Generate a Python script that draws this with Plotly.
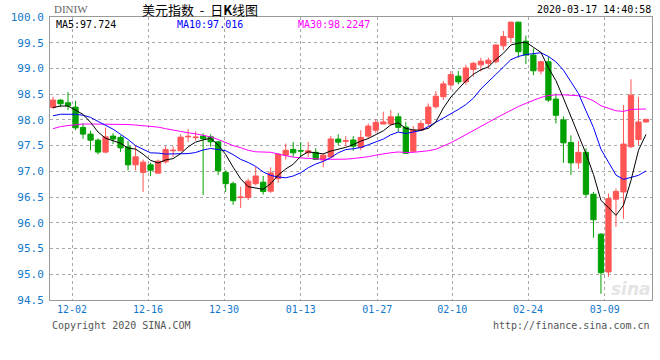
import plotly.graph_objects as go
import datetime as dt

# ---------------- data ----------------
start = dt.date(2019, 11, 27)
dates = []
d = start
while len(dates) < 80:
    if d.weekday() < 5:
        dates.append(d.strftime("%m-%d"))
    d += dt.timedelta(days=1)

opens = [98.243, 98.385, 98.333, 98.249, 97.854, 97.724, 97.607, 97.374, 97.685, 97.66,
         97.477, 97.127, 96.98, 97.127, 96.965, 97.185, 97.40, 97.40, 97.67, 97.655,
         97.685, 97.671, 97.574, 96.98, 96.76, 96.49, 96.49, 96.76, 96.79, 96.615,
         96.86, 97.315, 97.426, 97.405, 97.36, 97.37, 97.22, 97.28, 97.627, 97.585,
         97.61, 97.465, 97.685, 97.80, 97.92, 97.92, 98.06, 97.86, 97.39, 97.80,
         97.93, 98.255, 98.45, 98.68, 98.85, 98.74, 98.98, 99.07, 99.10, 99.13,
         99.44, 99.60, 99.90, 99.53, 99.26, 98.95, 99.13, 98.405, 98.00, 97.56,
         97.165, 97.37, 96.555, 95.78, 95.045, 96.46, 96.60, 97.48, 97.62, 97.96]
highs = [98.45, 98.40, 98.54, 98.37, 97.93, 97.79, 97.64, 97.85, 97.74, 97.70,
         97.59, 97.50, 97.23, 97.17, 97.23, 97.49, 97.49, 97.72, 97.82, 97.78,
         97.74, 97.72, 97.59, 97.02, 96.80, 96.70, 96.86, 97.09, 96.91, 97.08,
         97.35, 97.54, 97.57, 97.57, 97.57, 97.45, 97.35, 97.685, 97.72, 97.685,
         97.685, 97.80, 97.93, 98.01, 98.16, 98.19, 98.13, 97.96, 97.88, 97.99,
         98.32, 98.56, 98.755, 98.95, 98.95, 99.07, 99.13, 99.21, 99.21, 99.47,
         99.73, 99.91, 99.91, 99.64, 99.39, 99.15, 99.23, 98.515, 98.07, 97.70,
         97.59, 97.45, 96.60, 95.80, 96.57, 96.67, 98.29, 98.79, 98.45, 98.02]
lows = [98.21, 98.25, 98.19, 97.80, 97.63, 97.41, 97.33, 97.35, 97.53, 97.38,
        97.02, 97.02, 96.60, 96.91, 96.96, 97.15, 97.28, 97.40, 97.57, 97.60,
        96.54, 97.48, 96.93, 96.60, 96.35, 96.29, 96.44, 96.73, 96.55, 96.58,
        96.78, 97.23, 97.28, 97.28, 97.28, 97.22, 97.08, 97.26, 97.51, 97.49,
        97.40, 97.41, 97.64, 97.75, 97.92, 97.89, 97.77, 97.35, 97.38, 97.80,
        97.87, 98.22, 98.385, 98.59, 98.69, 98.68, 98.84, 98.94, 99.00, 99.10,
        99.36, 99.49, 99.21, 99.085, 98.87, 98.885, 98.35, 97.93, 97.165, 96.93,
        97.05, 96.50, 95.71, 94.62, 94.95, 95.92, 96.08, 97.45, 97.51, 97.95]
closes = [98.385, 98.313, 98.274, 97.846, 97.724, 97.607, 97.374, 97.671, 97.627, 97.457,
          97.127, 97.282, 97.179, 97.023, 97.198, 97.426, 97.41, 97.665, 97.68, 97.665,
          97.633, 97.574, 97.010, 96.76, 96.43, 96.50, 96.81, 96.91, 96.61, 96.97,
          97.335, 97.41, 97.36, 97.395, 97.40, 97.23, 97.315, 97.63, 97.568, 97.595,
          97.49, 97.66, 97.88, 97.95, 97.96, 98.06, 97.855, 97.35, 97.80, 97.93,
          98.25, 98.46, 98.70, 98.88, 98.74, 99.01, 99.10, 99.14, 99.16, 99.455,
          99.62, 99.90, 99.325, 99.26, 98.955, 99.13, 98.385, 98.09, 97.555, 97.165,
          97.37, 96.555, 96.06, 95.03, 96.47, 96.61, 97.53, 98.48, 97.96, 98.01]

ma5 = [98.24, 98.27, 98.27, 98.19,
       98.108, 97.953, 97.765, 97.644, 97.601, 97.547, 97.451, 97.433, 97.334, 97.214,
       97.162, 97.222, 97.247, 97.344, 97.476, 97.569, 97.611, 97.643, 97.512, 97.328,
       97.081, 96.855, 96.702, 96.682, 96.652, 96.76, 96.927, 97.047, 97.137, 97.294,
       97.38, 97.359, 97.34, 97.394, 97.429, 97.467, 97.519, 97.588, 97.638, 97.714,
       97.788, 97.902, 97.941, 97.835, 97.805, 97.799, 97.837, 97.958, 98.228, 98.444,
       98.606, 98.758, 98.886, 98.974, 99.03, 99.173, 99.295, 99.455, 99.492, 99.512,
       99.412, 99.314, 99.011, 98.764, 98.423, 98.065, 97.713, 97.347, 96.941, 96.436,
       96.297, 96.145, 96.34, 96.824, 97.41, 97.718]
ma10 = [98.08, 98.11, 98.11, 98.11, 98.09, 98.05, 97.97, 97.89, 97.82, 97.72,
        97.62, 97.50, 97.43, 97.36, 97.355, 97.336, 97.34, 97.339, 97.345, 97.366,
        97.416, 97.445, 97.428, 97.402, 97.325, 97.233, 97.173, 97.097, 96.990, 96.921,
        96.891, 96.875, 96.910, 96.973, 97.07, 97.143, 97.194, 97.266, 97.361, 97.423,
        97.439, 97.464, 97.516, 97.571, 97.627, 97.710, 97.764, 97.736, 97.760, 97.794,
        97.870, 97.950, 98.032, 98.125, 98.203, 98.298, 98.422, 98.601, 98.737, 98.890,
        99.027, 99.171, 99.233, 99.271, 99.293, 99.305, 99.233, 99.128, 98.968, 98.739,
        98.514, 98.179, 97.853, 97.430, 97.181, 96.929, 96.844, 96.883, 96.923, 97.008]
ma30 = [97.83, 97.87, 97.89, 97.91, 97.92, 97.92, 97.92, 97.92, 97.92, 97.92,
        97.91, 97.90, 97.89, 97.88, 97.86, 97.83, 97.80, 97.77, 97.75, 97.73,
        97.70, 97.67, 97.62, 97.56, 97.50, 97.46, 97.41, 97.38, 97.37, 97.371,
        97.336, 97.306, 97.276, 97.261, 97.250, 97.237, 97.235, 97.234, 97.232, 97.237,
        97.249, 97.261, 97.285, 97.315, 97.341, 97.362, 97.377, 97.366, 97.370, 97.379,
        97.400, 97.429, 97.486, 97.556, 97.633, 97.717, 97.793, 97.868, 97.953, 98.035,
        98.112, 98.195, 98.260, 98.322, 98.374, 98.437, 98.473, 98.488, 98.488, 98.474,
        98.470, 98.433, 98.372, 98.275, 98.225, 98.177, 98.166, 98.204, 98.209, 98.212]

tick_labels = ["12-02", "12-16", "12-30", "01-13", "01-27", "02-10", "02-24", "03-09"]
y_ticks = [94.5, 95.0, 95.5, 96.0, 96.5, 97.0, 97.5, 98.0, 98.5, 99.0, 99.5, 100.0]
legend_texts = ["MA5:97.724", "MA10:97.016", "MA30:98.2247"]

# ---------------- layout geometry ----------------
W, H = 660, 360
L, R, T, B = 50, 8, 17, 60
PW, PH = W - L - R, H - T - B
X0, X1 = -0.4, 79.8
grid_px = [72, 148, 224, 300.7, 377.3, 452.3, 528, 604.7]


def px_to_x(px):
    return X0 + (px - L) / PW * (X1 - X0)


def fx(px):
    return (px - L) / PW


def fy(py):
    return (H - B - py) / PH


idx = list(range(len(dates)))
RED, GREEN = "#FF5555", "#00A000"
BLUE_TXT = "#1177CC"
MONO = "DejaVu Sans Mono"
NB = "\u00a0"

fig = go.Figure()
fig.add_trace(go.Candlestick(
    x=idx, open=opens, high=highs, low=lows, close=closes,
    increasing=dict(line=dict(color=RED, width=1), fillcolor=RED),
    decreasing=dict(line=dict(color=GREEN, width=1), fillcolor=GREEN),
    whiskerwidth=0, hoverinfo="skip", text=dates,
))
for vals, col in [(ma30, "#FF00FF"), (ma10, "#0000FF"), (ma5, "#000000")]:
    fig.add_trace(go.Scatter(x=idx, y=vals, mode="lines",
                             line=dict(color=col, width=1), hoverinfo="skip"))

fig.update_layout(
    width=W, height=H, margin=dict(l=L, r=R, t=T, b=B, pad=0),
    paper_bgcolor="white", plot_bgcolor="white",
    showlegend=False, hovermode=False, boxgap=0.3, boxgroupgap=0,
    xaxis=dict(range=[X0, X1], rangeslider=dict(visible=False),
               tickvals=[px_to_x(p) for p in grid_px], ticktext=tick_labels,
               showgrid=True, gridcolor="#a8a8a8", griddash="dot", gridwidth=1,
               showline=True, linecolor="#999999", linewidth=1, mirror=True,
               ticks="", zeroline=False, ticklabelstandoff=0,
               tickfont=dict(family=MONO, size=10, color=BLUE_TXT)),
    yaxis=dict(range=[94.5, 100.0], tickvals=y_ticks,
               ticktext=[f"{v:.1f}" for v in y_ticks],
               showgrid=True, gridcolor="#a8a8a8", griddash="dot", gridwidth=1,
               showline=True, linecolor="#999999", linewidth=1, mirror=True,
               ticks="", zeroline=False, ticklabelstandoff=3,
               tickfont=dict(family=MONO, size=11, color=BLUE_TXT)),
)

ann = []
ann.append(dict(text="DINIW", x=fx(52), y=fy(9), xanchor="left", yanchor="middle",
                font=dict(family="Liberation Serif", size=11, color="#666666")))
ann.append(dict(text="美元指数" + NB * 2 + "-" + NB * 2 + "日<b>K</b>线图", x=fx(140), y=fy(9),
                xanchor="left", yanchor="middle",
                font=dict(family="Noto Sans CJK SC", size=13, color="#000000")))
ann.append(dict(text="2020-03-17 14:40:58", x=fx(653), y=fy(9), xanchor="right",
                yanchor="middle", font=dict(family=MONO, size=10, color="#000000")))
for txt, px, col in zip(legend_texts, [54, 175, 296], ["#000000", "#0000FF", "#FF00FF"]):
    ann.append(dict(text=txt, x=fx(px), y=fy(25), xanchor="left", yanchor="middle",
                    font=dict(family=MONO, size=10, color=col)))
ann.append(dict(text="Copyright 2020 SINA.COM", x=fx(50), y=fy(325), xanchor="left",
                yanchor="middle", font=dict(family=MONO, size=10, color="#555555")))
ann.append(dict(text="http://finance.sina.com.cn", x=fx(652), y=fy(325), xanchor="right",
                yanchor="middle", font=dict(family=MONO, size=10, color="#555555")))
ann.append(dict(text="<i><b>sina</b></i>", x=fx(631), y=fy(289), xanchor="center",
                yanchor="middle", font=dict(family="DejaVu Sans", size=17, color="#e4e4e4")))
for a in ann:
    a.update(xref="paper", yref="paper", showarrow=False)
fig.update_layout(annotations=ann)

fig.write_html("out.html")
